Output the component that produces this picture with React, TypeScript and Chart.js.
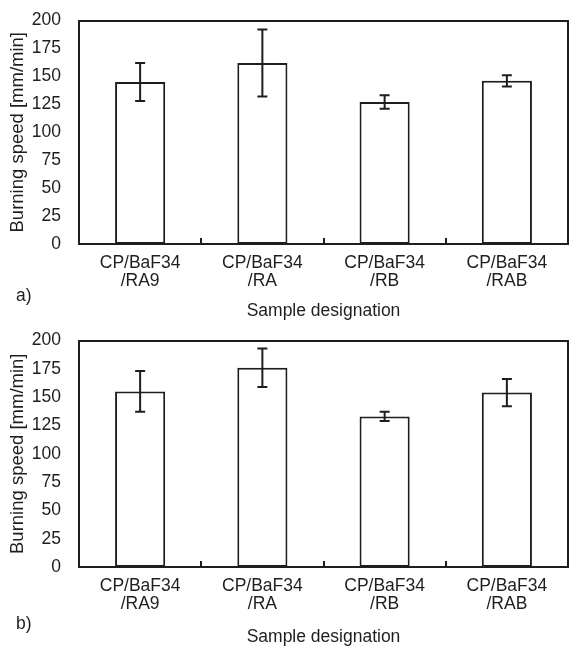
import React, { useEffect, useRef } from 'react';
import { Chart, registerables } from 'chart.js';
Chart.register(...registerables);

const categories: string[][] = [
  ['CP/BaF34', '/RA9'],
  ['CP/BaF34', '/RA'],
  ['CP/BaF34', '/RB'],
  ['CP/BaF34', '/RAB'],
];
const speedA = [145, 162, 127, 146];
const errorA = [17, 30, 6, 5];
const speedB = [155, 176, 133, 154];
const errorB = [18, 17, 4, 12];
const yMin = 0;
const yMax = 200;
const yStep = 25;
const yTitle = 'Burning speed [mm/min]';
const xTitle = 'Sample designation';

const FONT = "'Liberation Sans', Arial, Helvetica, sans-serif";
const INK = '#1e1e1e';

const errorBarPlugin = {
  id: 'errorBars',
  afterDatasetsDraw(chart: any, _args: any, opts: any) {
    const errs: number[] = opts.errors || [];
    const meta = chart.getDatasetMeta(0);
    const ds = chart.data.datasets[0];
    const y = chart.scales.y;
    const ctx = chart.ctx;
    ctx.save();
    ctx.strokeStyle = INK;
    ctx.lineWidth = 2;
    meta.data.forEach((bar: any, i: number) => {
      const v = ds.data[i] as number;
      const e = errs[i] || 0;
      const yTop = y.getPixelForValue(v + e);
      const yBot = y.getPixelForValue(v - e);
      const x = bar.x;
      const cap = 5;
      ctx.beginPath();
      ctx.moveTo(x, yTop);
      ctx.lineTo(x, yBot);
      ctx.moveTo(x - cap, yTop);
      ctx.lineTo(x + cap, yTop);
      ctx.moveTo(x - cap, yBot);
      ctx.lineTo(x + cap, yBot);
      ctx.stroke();
    });
    ctx.restore();
  },
};

type PanelProps = {
  values: number[];
  errors: number[];
  top: number;
  height: number;
  axisHeight: number;
  letter: string;
  letterTop: number;
};

function Panel({ values, errors, top, height, axisHeight, letter, letterTop }: PanelProps) {
  const ref = useRef<HTMLCanvasElement | null>(null);
  useEffect(() => {
    if (!ref.current) return;
    const chart = new Chart(ref.current, {
      type: 'bar',
      data: {
        labels: categories as any,
        datasets: [
          {
            data: values,
            backgroundColor: '#ffffff',
            borderColor: INK,
            borderWidth: 2,
            borderSkipped: false,
            barPercentage: 0.41,
            categoryPercentage: 1,
          },
        ],
      },
      plugins: [errorBarPlugin as any],
      options: {
        animation: false,
        responsive: false,
        maintainAspectRatio: false,
        layout: { padding: { top: 18, right: 1, left: 0, bottom: 0 } },
        plugins: {
          legend: { display: false },
          tooltip: { enabled: false },
          errorBars: { errors } as any,
        } as any,
        scales: {
          x: {
            type: 'category',
            position: 'bottom',
            offset: true,
            grid: {
              display: true,
              offset: true,
              drawOnChartArea: false,
              drawTicks: true,
              tickLength: -6,
              color: INK,
              lineWidth: 2,
            },
            border: { display: true, color: INK, width: 2 },
            ticks: {
              color: INK,
              padding: 16,
              maxRotation: 0,
              autoSkip: false,
              font: { family: FONT, size: 17.5, lineHeight: 1.03 },
            },
            title: {
              display: true,
              text: xTitle,
              color: INK,
              padding: 0,
              font: { family: FONT, size: 17.5, lineHeight: 1 },
            },
            afterFit: (s: any) => {
              s.height = axisHeight;
            },
          },
          x2: {
            type: 'category',
            position: 'top',
            labels: categories.map((c) => c.join(' ')),
            grid: { display: false },
            border: { display: true, color: INK, width: 2 },
            ticks: { display: false },
            afterFit: (s: any) => {
              s.height = 0;
            },
          },
          y: {
            type: 'linear',
            position: 'left',
            min: yMin,
            max: yMax,
            grid: { display: false },
            border: { display: true, color: INK, width: 2 },
            ticks: {
              stepSize: yStep,
              color: INK,
              padding: 10,
              font: { family: FONT, size: 17.5 },
            },
            title: {
              display: true,
              text: yTitle,
              color: INK,
              padding: { top: 9, bottom: 0 },
              font: { family: FONT, size: 18.5, lineHeight: 1 },
            },
            afterFit: (s: any) => {
              s.width = 79;
            },
          },
          y2: {
            type: 'linear',
            position: 'right',
            min: yMin,
            max: yMax,
            grid: { display: false },
            border: { display: true, color: INK, width: 2 },
            ticks: { display: false },
            afterFit: (s: any) => {
              s.width = 0;
            },
          },
        },
      } as any,
    });
    return () => chart.destroy();
  }, [values, errors, axisHeight]);

  return (
    <div style={{ position: 'absolute', left: 0, top, width: 569, height }}>
      <canvas ref={ref} width={569} height={height} style={{ width: 569, height, display: 'block' }} />
      <div
        style={{
          position: 'absolute',
          left: 16,
          top: letterTop,
          fontFamily: FONT,
          fontSize: 17.5,
          lineHeight: 1,
          color: INK,
        }}
      >
        {letter}
      </div>
    </div>
  );
}

export default function App() {
  return (
    <div style={{ position: 'absolute', left: 0, top: 0, width: 569, height: 646, background: '#ffffff' }}>
      <Panel values={speedA} errors={errorA} top={0} height={320} axisHeight={76} letter="a)" letterTop={287} />
      <Panel values={speedB} errors={errorB} top={320} height={326} axisHeight={79} letter="b)" letterTop={295} />
    </div>
  );
}
